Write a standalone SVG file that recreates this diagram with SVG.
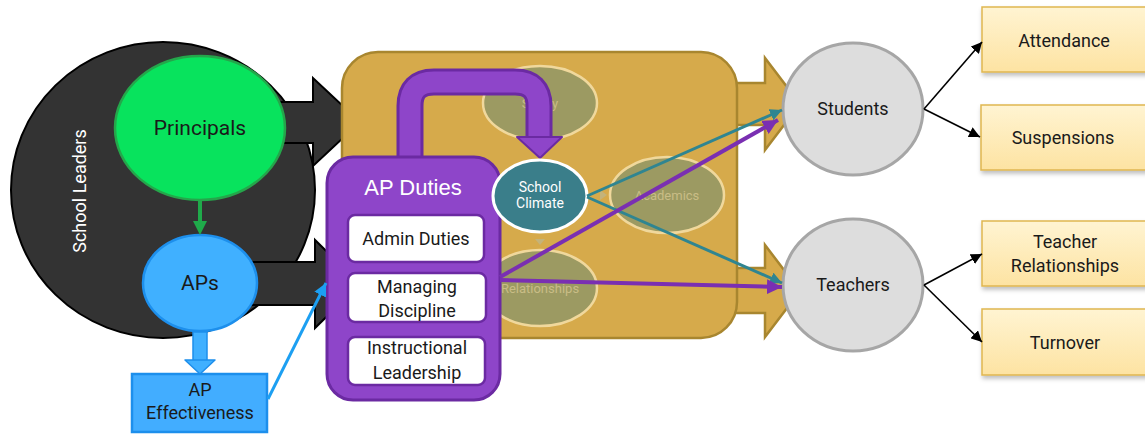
<svg xmlns="http://www.w3.org/2000/svg" width="1145" height="434" viewBox="0 0 1145 434">
  <style>
    .rb { font-family: Roboto, "Noto Sans", sans-serif; text-anchor: middle; fill: #1a1a1a; }
    .dark { fill: #333333; stroke: #000000; stroke-width: 2; }
    .gold { fill: #d6aa4b; stroke: #a8862f; stroke-width: 2.5; }
    .inner { fill: #9c9a62; stroke: #f0d89c; stroke-width: 2.5; }
    .faint { font-family: Roboto, "Noto Sans", sans-serif; text-anchor: middle; fill: #c9bd86; font-size: 13px; }
    .duty { fill: #ffffff; stroke: #6b2aa2; stroke-width: 2.5; }
    .outcome { fill: url(#outcomeFill); stroke: #dfb650; stroke-width: 1.5; filter: url(#shadow); }
    .group { fill: #dddddd; stroke: #a6a6a6; stroke-width: 3; }
  </style>
  <defs>
    <linearGradient id="outcomeFill" x1="0" y1="0" x2="0" y2="1">
      <stop offset="0" stop-color="#fff4d2"/>
      <stop offset="1" stop-color="#fde3a2"/>
    </linearGradient>
    <filter id="shadow" x="-10%" y="-20%" width="130%" height="150%">
      <feDropShadow dx="1" dy="3" stdDeviation="2" flood-color="#000000" flood-opacity="0.25"/>
    </filter>
    <marker id="headBlack" viewBox="0 0 10 10" refX="10" refY="5" markerWidth="11" markerHeight="11" markerUnits="userSpaceOnUse" orient="auto">
      <path d="M0,0 L10,5 L0,10 z" fill="#000000"/>
    </marker>
    <marker id="headTeal" viewBox="0 0 10 10" refX="10" refY="5" markerWidth="12" markerHeight="12" markerUnits="userSpaceOnUse" orient="auto">
      <path d="M0,0 L10,5 L0,10 z" fill="#2f8591"/>
    </marker>
    <marker id="headPurple" viewBox="0 0 10 10" refX="10" refY="5" markerWidth="15" markerHeight="15" markerUnits="userSpaceOnUse" orient="auto">
      <path d="M0,0 L10,5 L0,10 z" fill="#7a2fb2"/>
    </marker>
    <marker id="headBlue" viewBox="0 0 10 10" refX="10" refY="5" markerWidth="13" markerHeight="13" markerUnits="userSpaceOnUse" orient="auto">
      <path d="M0,0 L10,5 L0,10 z" fill="#1c9ff2"/>
    </marker>
  </defs>

  <!-- school leaders backdrop -->
  <g id="school-leaders">
    <ellipse cx="163" cy="190" rx="152" ry="148" class="dark"/>
    <text class="rb" transform="translate(86 191) rotate(-90)" font-size="18" fill="#ffffff" style="fill:#ffffff">School Leaders</text>
  </g>

  <!-- broad arrows from the leaders into the school -->
  <g id="leader-arrows">
    <polygon class="dark" points="262,102 313,102 313,78 360,122 313,166 313,143 262,143"/>
    <polygon class="dark" points="230,262 315,262 315,240 360,284 315,328 315,305 230,305"/>
  </g>

  <!-- broad arrows out of the school -->
  <g id="school-arrows">
    <polygon class="gold" points="700,83 765,83 765,58 800,104 765,150 765,125 700,125"/>
    <polygon class="gold" points="700,268 765,268 765,245 800,291 765,337 765,313 700,313"/>
  </g>

  <!-- school context -->
  <g id="school">
    <rect x="342" y="52" width="395" height="286" rx="36" class="gold"/>
    <g id="safety">
      <ellipse cx="540" cy="103" rx="57" ry="37" class="inner"/>
      <text class="faint" x="540" y="108">Safety</text>
    </g>
    <g id="academics">
      <ellipse cx="667" cy="195" rx="57" ry="38" class="inner"/>
      <text class="faint" x="667" y="200">Academics</text>
    </g>
    <g id="relationships">
      <ellipse cx="540" cy="288" rx="57" ry="38" class="inner"/>
      <text class="faint" x="540" y="293">Relationships</text>
    </g>
    <polygon points="535,239 545,239 540,245" fill="#c4b37a"/>
    <polygon points="600,190 600,200 607,195" fill="#c4b37a"/>
  </g>

  <!-- duties loop into school climate -->
  <g id="duties-loop">
    <path d="M410,165 L410,106 Q410,82 434,82 L515,82 Q539,82 539,106 L539,138" fill="none" stroke="#6b2aa2" stroke-width="27"/>
    <path d="M410,165 L410,106 Q410,82 434,82 L515,82 Q539,82 539,106 L539,139" fill="none" stroke="#8e45c9" stroke-width="21"/>
    <polygon points="517,137 562,137 540,158" fill="#8e45c9" stroke="#6b2aa2" stroke-width="2" stroke-linejoin="round"/>
  </g>

  <!-- AP duties -->
  <g id="ap-duties">
    <rect x="327" y="157" width="173" height="243" rx="26" fill="#8e45c9" stroke="#6b2aa2" stroke-width="3"/>
    <text x="413" y="195" font-family="'Liberation Sans', Arial, sans-serif" font-size="22" fill="#ffffff" text-anchor="middle">AP Duties</text>
    <g id="admin-duties">
      <rect x="348" y="215" width="136" height="47" rx="7" class="duty"/>
      <text class="rb" x="416" y="245" font-size="18">Admin Duties</text>
    </g>
    <g id="managing-discipline">
      <rect x="348" y="273" width="138" height="49" rx="7" class="duty"/>
      <text class="rb" x="417" y="293" font-size="18">Managing</text>
      <text class="rb" x="417" y="317" font-size="18">Discipline</text>
    </g>
    <g id="instructional-leadership">
      <rect x="348" y="337" width="137" height="48" rx="7" class="duty"/>
      <text class="rb" x="417" y="354" font-size="18">Instructional</text>
      <text class="rb" x="417" y="379" font-size="18">Leadership</text>
    </g>
  </g>

  <!-- school climate -->
  <g id="school-climate">
    <ellipse cx="540" cy="196" rx="47" ry="36" fill="#3a7e8a" stroke="#ffffff" stroke-width="3"/>
    <text class="rb" x="540" y="192" font-size="14" style="fill:#ffffff">School</text>
    <text class="rb" x="540" y="208" font-size="14" style="fill:#ffffff">Climate</text>
  </g>

  <!-- principals and assistant principals -->
  <g id="principals">
    <ellipse cx="200" cy="128" rx="85" ry="72" fill="#08e35d" stroke="#25a64b" stroke-width="2.5"/>
    <text class="rb" x="200" y="135" font-size="21">Principals</text>
  </g>
  <g id="aps">
    <ellipse cx="200" cy="283" rx="57" ry="48" fill="#40b0ff" stroke="#1d8fec" stroke-width="2.5"/>
    <text class="rb" x="200" y="290" font-size="21">APs</text>
  </g>
  <g id="ap-effectiveness">
    <rect x="132" y="374" width="135" height="58" fill="#42adff" stroke="#1d8fec" stroke-width="2.5"/>
    <text class="rb" x="200" y="396" font-size="18">AP</text>
    <text class="rb" x="200" y="419" font-size="18">Effectiveness</text>
  </g>

  <!-- affected groups -->
  <g id="students">
    <ellipse cx="853" cy="109" rx="70" ry="66" class="group"/>
    <text class="rb" x="853" y="115" font-size="18">Students</text>
  </g>
  <g id="teachers">
    <ellipse cx="853" cy="285" rx="70" ry="66" class="group"/>
    <text class="rb" x="853" y="291" font-size="18">Teachers</text>
  </g>

  <!-- outcomes -->
  <g id="attendance">
    <rect x="982" y="7" width="170" height="65" class="outcome"/>
    <text class="rb" x="1064" y="47" font-size="18">Attendance</text>
  </g>
  <g id="suspensions">
    <rect x="981" y="105" width="170" height="65" class="outcome"/>
    <text class="rb" x="1063" y="144" font-size="18">Suspensions</text>
  </g>
  <g id="teacher-relationships">
    <rect x="982" y="221" width="170" height="65" class="outcome"/>
    <text class="rb" x="1065" y="248" font-size="18">Teacher</text>
    <text class="rb" x="1065" y="272" font-size="18">Relationships</text>
  </g>
  <g id="turnover">
    <rect x="982" y="309" width="170" height="66" class="outcome"/>
    <text class="rb" x="1065" y="349" font-size="18">Turnover</text>
  </g>

  <!-- connectors -->
  <g id="connectors" fill="none">
    <!-- principals to APs -->
    <line x1="200" y1="201" x2="200" y2="222" stroke="#1faa4a" stroke-width="4"/>
    <polygon points="193,221 207,221 200,235" fill="#1faa4a"/>
    <!-- APs to AP effectiveness -->
    <rect x="193" y="332" width="14" height="30" fill="#40b0ff" stroke="#1d8fec" stroke-width="1.5"/>
    <polygon points="185,360 215,360 200,374" fill="#40b0ff" stroke="#1d8fec" stroke-width="1.5" stroke-linejoin="round"/>
    <!-- effectiveness to duties -->
    <line x1="268" y1="399" x2="326" y2="283" stroke="#1c9ff2" stroke-width="3" marker-end="url(#headBlue)"/>
    <!-- climate to groups -->
    <line x1="587" y1="196" x2="782" y2="110" stroke="#2f8591" stroke-width="3" marker-end="url(#headTeal)"/>
    <line x1="587" y1="197" x2="782" y2="283" stroke="#2f8591" stroke-width="3" marker-end="url(#headTeal)"/>
    <!-- discipline to groups -->
    <line x1="500" y1="277" x2="778" y2="120" stroke="#7a2fb2" stroke-width="4" marker-end="url(#headPurple)"/>
    <line x1="500" y1="280" x2="782" y2="287" stroke="#7a2fb2" stroke-width="4" marker-end="url(#headPurple)"/>
    <!-- groups to outcomes -->
    <line x1="924" y1="109" x2="982" y2="42" stroke="#000000" stroke-width="1.6" marker-end="url(#headBlack)"/>
    <line x1="924" y1="109" x2="980" y2="137" stroke="#000000" stroke-width="1.6" marker-end="url(#headBlack)"/>
    <line x1="924" y1="285" x2="982" y2="254" stroke="#000000" stroke-width="1.6" marker-end="url(#headBlack)"/>
    <line x1="924" y1="285" x2="982" y2="342" stroke="#000000" stroke-width="1.6" marker-end="url(#headBlack)"/>
  </g>
</svg>
